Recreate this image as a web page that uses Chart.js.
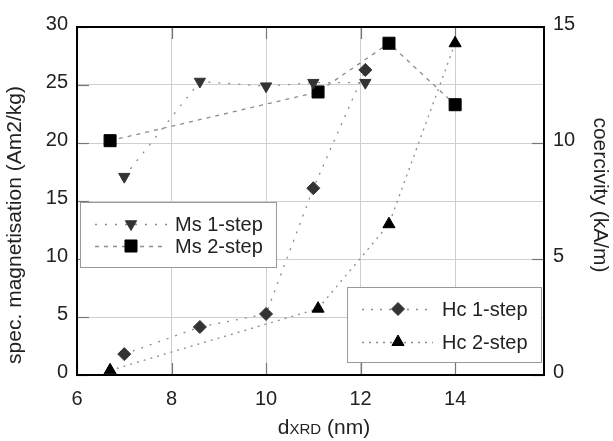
<!DOCTYPE html>
<html><head><meta charset="utf-8">
<script src="https://cdn.jsdelivr.net/npm/chart.js@4/dist/chart.umd.min.js"></script>
<style>html,body{margin:0;padding:0;background:#fff;} canvas{display:block}</style>
</head><body>
<canvas id="c" width="613" height="441"></canvas>
<script>
const FONT = "'Liberation Sans', Arial, Helvetica, sans-serif";
const xTicks = [6, 8, 10, 12, 14];
const yLeftTicks = [0, 5, 10, 15, 20, 25, 30];
const yRightTicks = [0, 5, 10, 15];
const ms1X = [7.0, 8.6, 10.0, 11.0, 12.1];
const ms1Y = [17.1, 25.3, 24.9, 25.2, 25.2];
const ms2X = [6.7, 11.1, 12.6, 14.0];
const ms2Y = [20.2, 24.4, 28.6, 23.3];
const hc1X = [7.0, 8.6, 10.0, 11.0, 12.1];
const hc1Y = [0.9, 2.07, 2.63, 8.05, 13.15];
const hc2X = [6.7, 11.1, 12.6, 14.0];
const hc2Y = [0.2, 2.86, 6.5, 14.3];
const seriesLabels = ['Ms 1-step', 'Ms 2-step', 'Hc 1-step', 'Hc 2-step'];
const xTitleParts = ['d', 'XRD', ' (nm)'];
const yLeftTitle = 'spec. magnetisation (Am2/kg)';
const yRightTitle = 'coercivity (kA/m)';

const pts = (xs, ys) => xs.map((x, i) => ({x: x, y: ys[i]}));

const styles = [
  {line: '#8c8c8c', dash: [2, 8], point: 'triangle', rot: 180, r: 6.5, fill: '#333'},
  {line: '#8c8c8c', dash: [4, 5], point: 'rect', rot: 0, r: 8.5, fill: '#000'},
  {line: '#8c8c8c', dash: [2, 7], point: 'rectRot', rot: 0, r: 6.5, fill: '#333'},
  {line: '#8c8c8c', dash: [2, 5], point: 'triangle', rot: 0, r: 7, fill: '#000'}
];

function mkDs(i, data, axis) {
  const s = styles[i];
  return {
    label: seriesLabels[i], data: data, yAxisID: axis,
    showLine: true, tension: 0,
    borderColor: s.line, borderWidth: 1.3, borderDash: s.dash,
    pointStyle: s.point, rotation: s.rot, pointRadius: s.r, pointHoverRadius: s.r,
    pointBackgroundColor: s.fill, pointBorderColor: s.fill, pointBorderWidth: 1
  };
}

function drawMarker(ctx, s, x, y) {
  ctx.save();
  ctx.fillStyle = s.fill; ctx.strokeStyle = s.fill; ctx.lineWidth = 1; ctx.setLineDash([]);
  ctx.beginPath();
  const r = s.r;
  if (s.point === 'rect') {
    const h = r * Math.SQRT1_2; ctx.rect(x - h, y - h, 2 * h, 2 * h);
  } else if (s.point === 'rectRot') {
    ctx.moveTo(x - r, y); ctx.lineTo(x, y - r); ctx.lineTo(x + r, y); ctx.lineTo(x, y + r); ctx.closePath();
  } else {
    let a = s.rot * Math.PI / 180;
    for (let k = 0; k < 3; k++) {
      const px = x + Math.sin(a) * r, py = y - Math.cos(a) * r;
      if (k === 0) ctx.moveTo(px, py); else ctx.lineTo(px, py);
      a += 2 * Math.PI / 3;
    }
    ctx.closePath();
  }
  ctx.fill(); ctx.stroke();
  ctx.restore();
}

const legendBoxes = [
  {box: [80, 202, 196, 65], items: [0, 1], rows: [224, 246], lineX: [95, 167], markX: 131, textX: 175},
  {box: [347, 287, 194, 75], items: [2, 3], rows: [309, 342], lineX: [362, 433], markX: 398, textX: 442}
];

const decor = {
  id: 'decor',
  beforeDatasetsDraw(chart) {
    const ctx = chart.ctx, a = chart.chartArea;
    const sx = chart.scales.x, sy = chart.scales.y, sy1 = chart.scales.y1;
    ctx.save();
    ctx.strokeStyle = '#777'; ctx.lineWidth = 1.2; ctx.setLineDash([]);
    const tl = 12;
    xTicks.forEach(v => {
      const p = Math.round(sx.getPixelForValue(v)) + 0.5;
      ctx.beginPath(); ctx.moveTo(p, a.bottom); ctx.lineTo(p, a.bottom - tl);
      ctx.moveTo(p, a.top); ctx.lineTo(p, a.top + tl); ctx.stroke();
    });
    yLeftTicks.forEach(v => {
      const p = Math.round(sy.getPixelForValue(v)) + 0.5;
      ctx.beginPath(); ctx.moveTo(a.left, p); ctx.lineTo(a.left + tl, p); ctx.stroke();
    });
    yRightTicks.forEach(v => {
      const p = Math.round(sy1.getPixelForValue(v)) + 0.5;
      ctx.beginPath(); ctx.moveTo(a.right, p); ctx.lineTo(a.right - tl, p); ctx.stroke();
    });
    ctx.restore();
  },
  afterDatasetsDraw(chart) {
    const ctx = chart.ctx;
    ctx.save();
    legendBoxes.forEach(L => {
      ctx.fillStyle = '#fff'; ctx.fillRect(L.box[0], L.box[1], L.box[2], L.box[3]);
      ctx.strokeStyle = '#999'; ctx.lineWidth = 1; ctx.setLineDash([]);
      ctx.strokeRect(L.box[0] + 0.5, L.box[1] + 0.5, L.box[2], L.box[3]);
      L.items.forEach((idx, k) => {
        const s = styles[idx], y = L.rows[k];
        ctx.strokeStyle = s.line; ctx.lineWidth = 1.3; ctx.setLineDash(s.dash);
        ctx.beginPath(); ctx.moveTo(L.lineX[0], y + 0.5); ctx.lineTo(L.lineX[1], y + 0.5); ctx.stroke();
        ctx.setLineDash([]);
        drawMarker(ctx, s, L.markX, y);
        ctx.fillStyle = '#222'; ctx.font = '20px ' + FONT; ctx.textBaseline = 'middle'; ctx.textAlign = 'left';
        ctx.fillText(seriesLabels[idx], L.textX, y + 1);
      });
    });
    ctx.restore();
  },
  afterDraw(chart) {
    const ctx = chart.ctx, a = chart.chartArea;
    ctx.save();
    ctx.strokeStyle = '#000'; ctx.lineWidth = 2; ctx.setLineDash([]);
    ctx.strokeRect(a.left, a.top, a.right - a.left, a.bottom - a.top);
    ctx.fillStyle = '#222';
    // x title
    ctx.textBaseline = 'alphabetic'; ctx.textAlign = 'left';
    const big = '21px ' + FONT, small = '15px ' + FONT;
    ctx.font = big; const w0 = ctx.measureText(xTitleParts[0]).width;
    ctx.font = small; const w1 = ctx.measureText(xTitleParts[1]).width;
    ctx.font = big; const w2 = ctx.measureText(xTitleParts[2]).width;
    let x0 = 324 - (w0 + w1 + w2) / 2; const by = 434;
    ctx.font = big; ctx.fillText(xTitleParts[0], x0, by);
    ctx.font = small; ctx.fillText(xTitleParts[1], x0 + w0, by);
    ctx.font = big; ctx.fillText(xTitleParts[2], x0 + w0 + w1, by);
    // left title
    ctx.font = big; ctx.textAlign = 'center'; ctx.textBaseline = 'middle';
    ctx.save(); ctx.translate(15, 225); ctx.rotate(-Math.PI / 2); ctx.fillText(yLeftTitle, 0, 0); ctx.restore();
    ctx.save(); ctx.translate(600, 195); ctx.rotate(Math.PI / 2); ctx.fillText(yRightTitle, 0, 0); ctx.restore();
    ctx.restore();
  }
};

const tickFont = {family: FONT, size: 20};

new Chart(document.getElementById('c'), {
  type: 'scatter',
  data: {
    datasets: [
      mkDs(0, pts(ms1X, ms1Y), 'y'),
      mkDs(1, pts(ms2X, ms2Y), 'y'),
      mkDs(2, pts(hc1X, hc1Y), 'y1'),
      mkDs(3, pts(hc2X, hc2Y), 'y1')
    ]
  },
  options: {
    responsive: false, animation: false, devicePixelRatio: 1,
    layout: {padding: {top: 27, left: 0, right: 0, bottom: 0}},
    plugins: {legend: {display: false}, tooltip: {enabled: false}, title: {display: false}},
    scales: {
      x: {
        type: 'linear', min: 6, max: 15.88,
        afterBuildTicks: s => { s.ticks = xTicks.map(v => ({value: v})); },
        afterFit: s => { s.height = 66; },
        grid: {color: '#cfcfcf', lineWidth: 1, drawTicks: false},
        border: {display: false},
        ticks: {font: tickFont, color: '#222', padding: 12, maxRotation: 0}
      },
      y: {
        type: 'linear', position: 'left', min: 0, max: 30,
        afterBuildTicks: s => { s.ticks = yLeftTicks.map(v => ({value: v})); },
        afterFit: s => { s.width = 77; },
        grid: {color: '#cfcfcf', lineWidth: 1, drawTicks: false},
        border: {display: false},
        ticks: {font: tickFont, color: '#222', padding: 9, labelOffset: -3}
      },
      y1: {
        type: 'linear', position: 'right', min: 0, max: 15,
        afterBuildTicks: s => { s.ticks = yRightTicks.map(v => ({value: v})); },
        afterFit: s => { s.width = 69; },
        grid: {drawOnChartArea: false, drawTicks: false},
        border: {display: false},
        ticks: {font: tickFont, color: '#222', padding: 9, labelOffset: -3}
      }
    }
  },
  plugins: [decor]
});
</script>
</body></html>
